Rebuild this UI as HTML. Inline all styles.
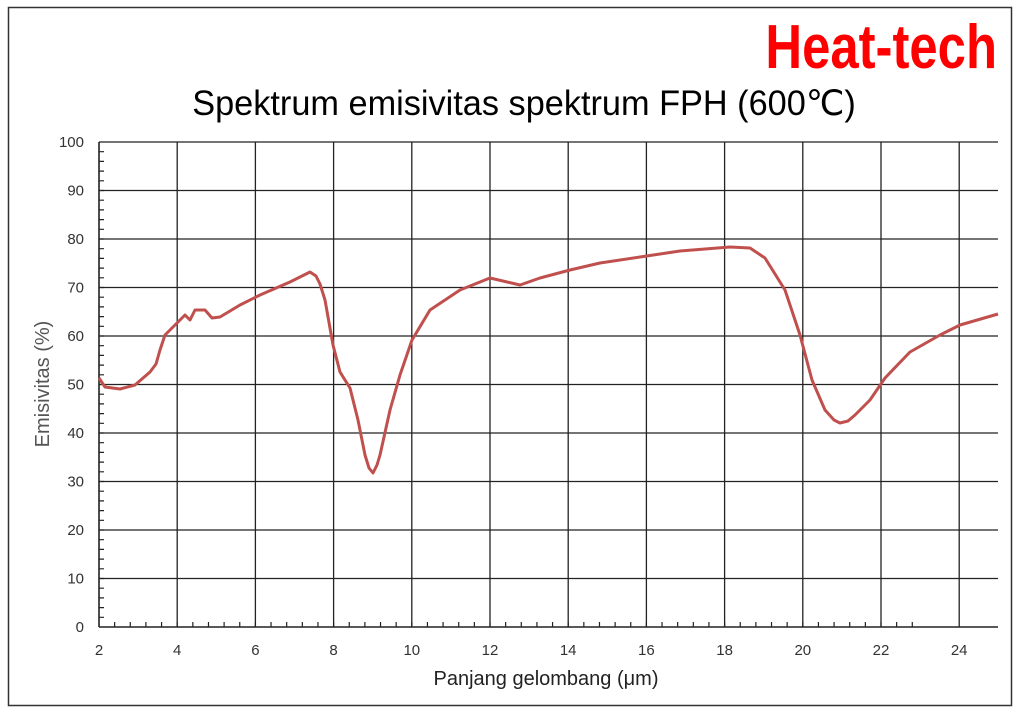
<!DOCTYPE html>
<html><head><style>body{margin:0;background:#fff}svg{display:block}</style></head><body>
<svg width="1024" height="716" xmlns="http://www.w3.org/2000/svg" font-family="Liberation Sans, sans-serif">
<rect x="0" y="0" width="1024" height="716" fill="#fff"/>
<rect x="8.5" y="7.5" width="1003" height="698" fill="none" stroke="#333" stroke-width="1.5"/>
<text x="0" y="0" transform="translate(997,68) scale(0.82,1)" text-anchor="end" font-size="62" font-weight="bold" fill="#f00">Heat-tech</text>
<text x="0" y="0" transform="translate(524,115) scale(0.98,1)" text-anchor="middle" font-size="35" fill="#000">Spektrum emisivitas spektrum FPH (600℃)</text>
<g stroke="#222" stroke-width="1.3">
<line x1="99" y1="142" x2="998" y2="142"/><line x1="99" y1="190.5" x2="998" y2="190.5"/><line x1="99" y1="239" x2="998" y2="239"/><line x1="99" y1="287.5" x2="998" y2="287.5"/><line x1="99" y1="336" x2="998" y2="336"/><line x1="99" y1="384.5" x2="998" y2="384.5"/><line x1="99" y1="433" x2="998" y2="433"/><line x1="99" y1="481.5" x2="998" y2="481.5"/><line x1="99" y1="530" x2="998" y2="530"/><line x1="99" y1="578.5" x2="998" y2="578.5"/>
<line x1="177.2" y1="142" x2="177.2" y2="627"/><line x1="255.4" y1="142" x2="255.4" y2="627"/><line x1="333.6" y1="142" x2="333.6" y2="627"/><line x1="411.8" y1="142" x2="411.8" y2="627"/><line x1="490" y1="142" x2="490" y2="627"/><line x1="568.2" y1="142" x2="568.2" y2="627"/><line x1="646.4" y1="142" x2="646.4" y2="627"/><line x1="724.6" y1="142" x2="724.6" y2="627"/><line x1="802.8" y1="142" x2="802.8" y2="627"/><line x1="881" y1="142" x2="881" y2="627"/><line x1="959.2" y1="142" x2="959.2" y2="627"/>
<line x1="99" y1="142" x2="99" y2="627" stroke-width="1.6"/><line x1="99" y1="627" x2="998" y2="627" stroke-width="1.6"/>
</g>
<path fill="none" stroke="#222" stroke-width="1.2" d="M99 622m15.64 0v5m0-5m15.64 0v5m0-5m15.64 0v5m0-5m15.64 0v5m0-5m15.64 0v5m0-5m15.64 0v5m0-5m15.64 0v5m0-5m15.64 0v5m0-5m15.64 0v5m0-5m15.64 0v5m0-5m15.64 0v5m0-5m15.64 0v5m0-5m15.64 0v5m0-5m15.64 0v5m0-5m15.64 0v5m0-5m15.64 0v5m0-5m15.64 0v5m0-5m15.64 0v5m0-5m15.64 0v5m0-5m15.64 0v5m0-5m15.64 0v5m0-5m15.64 0v5m0-5m15.64 0v5m0-5m15.64 0v5m0-5m15.64 0v5m0-5m15.64 0v5m0-5m15.64 0v5m0-5m15.64 0v5m0-5m15.64 0v5m0-5m15.64 0v5m0-5m15.64 0v5m0-5m15.64 0v5m0-5m15.64 0v5m0-5m15.64 0v5m0-5m15.64 0v5m0-5m15.64 0v5m0-5m15.64 0v5m0-5m15.64 0v5m0-5m15.64 0v5m0-5m15.64 0v5m0-5m15.64 0v5m0-5m15.64 0v5m0-5m15.64 0v5m0-5m15.64 0v5m0-5m15.64 0v5m0-5m15.64 0v5m0-5m15.64 0v5m0-5m15.64 0v5m0-5m15.64 0v5m0-5m15.64 0v5m0-5m15.64 0v5m0-5m15.64 0v5m0-5
M99 627m0-9.7h5m-5 0m0-9.7h5m-5 0m0-9.7h5m-5 0m0-9.7h5m-5 0m0-9.7h5m-5 0m0-9.7h5m-5 0m0-9.7h5m-5 0m0-9.7h5m-5 0m0-9.7h5m-5 0m0-9.7h5m-5 0m0-9.7h5m-5 0m0-9.7h5m-5 0m0-9.7h5m-5 0m0-9.7h5m-5 0m0-9.7h5m-5 0m0-9.7h5m-5 0m0-9.7h5m-5 0m0-9.7h5m-5 0m0-9.7h5m-5 0m0-9.7h5m-5 0m0-9.7h5m-5 0m0-9.7h5m-5 0m0-9.7h5m-5 0m0-9.7h5m-5 0m0-9.7h5m-5 0m0-9.7h5m-5 0m0-9.7h5m-5 0m0-9.7h5m-5 0m0-9.7h5m-5 0m0-9.7h5m-5 0m0-9.7h5m-5 0m0-9.7h5m-5 0m0-9.7h5m-5 0m0-9.7h5m-5 0m0-9.7h5m-5 0m0-9.7h5m-5 0m0-9.7h5m-5 0m0-9.7h5m-5 0m0-9.7h5m-5 0m0-9.7h5m-5 0m0-9.7h5m-5 0m0-9.7h5m-5 0m0-9.7h5m-5 0m0-9.7h5m-5 0m0-9.7h5m-5 0m0-9.7h5m-5 0m0-9.7h5m-5 0m0-9.7h5m-5 0m0-9.7h5m-5 0"/>
<g font-size="15" fill="#333" text-anchor="end">
<text x="84" y="147">100</text><text x="84" y="195.5">90</text><text x="84" y="244">80</text><text x="84" y="292.5">70</text><text x="84" y="341">60</text><text x="84" y="389.5">50</text><text x="84" y="438">40</text><text x="84" y="486.5">30</text><text x="84" y="535">20</text><text x="84" y="583.5">10</text><text x="84" y="632">0</text>
</g>
<g font-size="15" fill="#333" text-anchor="middle">
<text x="99" y="655">2</text><text x="177.2" y="655">4</text><text x="255.4" y="655">6</text><text x="333.6" y="655">8</text><text x="411.8" y="655">10</text><text x="490" y="655">12</text><text x="568.2" y="655">14</text><text x="646.4" y="655">16</text><text x="724.6" y="655">18</text><text x="802.8" y="655">20</text><text x="881" y="655">22</text><text x="959.2" y="655">24</text>
</g>
<text x="546" y="685" text-anchor="middle" font-size="20" fill="#222">Panjang gelombang (μm)</text>
<text transform="translate(49,384) rotate(-90)" text-anchor="middle" font-size="20" fill="#555">Emisivitas (%)</text>
<polyline fill="none" stroke="#c0504d" stroke-width="3" stroke-linejoin="round" points="99,378 105,387 120,389 135,385 150,372 156,364 160,350 165,335 175,325 185,315 190,320 195,310 205,310 212,318 220,317 240,305 260,295 290,282 310,272 316,276 320,284 325,300 333,345 340,372 350,388 358,420 365,455 369,468 373,473 377,465 380,455 390,410 400,375 412,340 430,310 460,290 490,278 520,285 540,278 570,270 600,263 640,257 680,251 730,247 750,248 765,258 785,290 800,335 812,380 825,410 834,420 840,423 848,421 855,415 870,400 885,378 910,352 940,335 960,325 998,314"/>
</svg>
</body></html>
